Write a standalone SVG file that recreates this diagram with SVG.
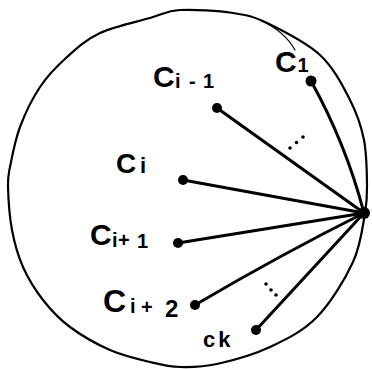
<svg xmlns="http://www.w3.org/2000/svg" width="372" height="369" viewBox="0 0 372 369">
<style>
.outline{fill:none;stroke:#000;stroke-width:2.2;stroke-linecap:round;stroke-linejoin:round}
.thin{fill:none;stroke:#000;stroke-width:1.2;stroke-linecap:round}
.edge{fill:none;stroke:#000;stroke-width:3;stroke-linecap:round}
.dot{fill:#000}
.lbl{font-family:"Liberation Sans",Arial,sans-serif;font-weight:bold;fill:#000}
.big{font-size:30px}
.sub{font-size:20px}
</style>
<rect width="372" height="369" fill="#fff"/>
<g id="boundary">
<path class="outline" d="M180,10 C193.8,9.2 218.5,10.8 233,13 C247.5,15.2 252.5,16 267,23 C281.5,30 306.2,42.2 320,55 C333.8,67.8 342.7,85.8 350,100 C357.3,114.2 361.2,125.8 364,140 C366.8,154.2 366.8,172.8 367,185 C367.2,197.2 367.3,200.2 365,213 C362.7,225.8 361,244.7 353,262 C345,279.3 330.8,302.8 317,317 C303.2,331.2 286.7,339.2 270,347 C253.3,354.8 232,360.7 217,364 C202,367.3 191.2,367.3 180,367 C168.8,366.7 161.7,364.8 150,362 C138.3,359.2 123.3,355.8 110,350 C96.7,344.2 81.2,335.3 70,327 C58.8,318.7 50.8,310 43,300 C35.2,290 28.2,278.7 23,267 C17.8,255.3 14.5,243.3 12,230 C9.5,216.7 8.3,197.5 8,187 C7.7,176.5 8,177 10,167 C12,157 15,140.3 20,127 C25,113.7 32.2,98.7 40,87 C47.8,75.3 57,66 67,57 C77,48 86.2,39.5 100,33 C113.8,26.5 136.7,21.8 150,18 C163.3,14.2 166.2,10.8 180,10 Z"/>
<path class="thin" d="M262,21 Q285,32 295,50"/>
</g>
<g id="connectors">
<path class="edge" d="M311,81 Q346,144 364,213"/>
<path class="edge" d="M217,108 L364,213"/>
<path class="edge" d="M183,180 L364,213"/>
<path class="edge" d="M178,243 L364,213"/>
<path class="edge" d="M195,305 Q280,255 364,213"/>
<path class="edge" d="M256,330 L364,213"/>
<circle class="dot" cx="290" cy="148" r="1.8"/>
<circle class="dot" cx="296.5" cy="142.5" r="1.8"/>
<circle class="dot" cx="303" cy="137" r="1.8"/>
<circle class="dot" cx="266" cy="284" r="1.8"/>
<circle class="dot" cx="271" cy="290" r="1.8"/>
<circle class="dot" cx="276" cy="295" r="1.8"/>
</g>
<g id="hub"><circle class="dot" cx="364" cy="213" r="6"/></g>
<g id="c1">
<circle class="dot" cx="311" cy="81" r="5.5"/>
<text class="lbl" y="72"><tspan class="big" x="275">C</tspan><tspan class="sub" x="297.5">1</tspan></text>
</g>
<g id="c-i-1">
<circle class="dot" cx="217" cy="108" r="5"/>
<text class="lbl" y="87"><tspan class="big" x="153">C</tspan><tspan class="sub" x="175" y="88">i</tspan><tspan class="sub" x="189" y="88">-</tspan><tspan class="sub" x="203" y="88">1</tspan></text>
</g>
<g id="c-i">
<circle class="dot" cx="183" cy="180" r="5"/>
<text class="lbl" y="173"><tspan class="big" x="116" style="font-size:28px">C</tspan><tspan x="140" style="font-size:22px">i</tspan></text>
</g>
<g id="c-i+1">
<circle class="dot" cx="178" cy="243" r="5"/>
<text class="lbl" y="245"><tspan class="big" x="90">C</tspan><tspan class="sub" x="112" y="247">i</tspan><tspan class="sub" x="118" y="247">+</tspan><tspan class="sub" x="137" y="248">1</tspan></text>
</g>
<g id="c-i+2">
<circle class="dot" cx="195" cy="305" r="5"/>
<text class="lbl" y="312"><tspan class="big" x="103" style="font-size:32px">C</tspan><tspan class="sub" x="130" y="313">i</tspan><tspan class="sub" x="141" y="314">+</tspan><tspan x="165" y="317" style="font-size:24px">2</tspan></text>
</g>
<g id="ck">
<circle class="dot" cx="256" cy="330" r="5"/>
<text class="lbl" x="203" y="347" style="font-size:22px;letter-spacing:3px">ck</text>
</g>
</svg>
